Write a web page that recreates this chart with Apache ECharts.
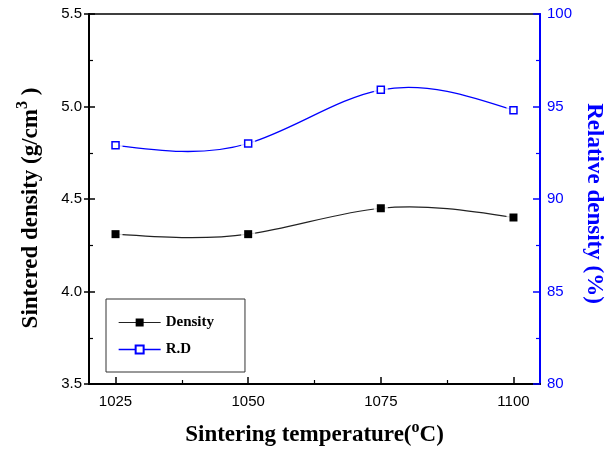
<!DOCTYPE html>
<html>
<head>
<meta charset="utf-8">
<script src="https://cdn.jsdelivr.net/npm/echarts@6/dist/echarts.min.js"></script>
<style>
  html, body { margin: 0; padding: 0; background: #fff; }
  #chart { width: 605px; height: 449px; }
</style>
</head>
<body>
<div id="chart"></div>
<script>
// Sintering temperature (°C)
const temperatures = [1025, 1050, 1075, 1100];
// Sintered density (g/cm3)
const density = [4.31, 4.31, 4.45, 4.40];
// Relative density (%)
const relDensity = [92.9, 93.0, 95.9, 94.8];
// Tick labels
const xTicks = [1025, 1050, 1075, 1100];
const xMinorTicks = [1037.5, 1062.5, 1087.5];

const BLUE = '#0000ff';
const SERIF = '"Liberation Serif", "Times New Roman", serif';
const SANS = '"Liberation Sans", Arial, sans-serif';

const pairs = (xs, ys) => xs.map((x, i) => [x, ys[i]]);
const densityData = pairs(temperatures, density);
const rdData = pairs(temperatures, relDensity);

// Knot slopes of a natural cubic spline through (xs, ys)
function splineSlopes(xs, ys) {
  const n = xs.length;
  const h = [];
  for (let i = 0; i < n - 1; i++) h.push(xs[i + 1] - xs[i]);
  const M = new Array(n).fill(0);
  if (n > 2) {
    // tridiagonal system for interior second derivatives
    const a = [], b = [], c = [], r = [];
    for (let i = 1; i < n - 1; i++) {
      a.push(h[i - 1]);
      b.push(2 * (h[i - 1] + h[i]));
      c.push(h[i]);
      r.push(6 * ((ys[i + 1] - ys[i]) / h[i] - (ys[i] - ys[i - 1]) / h[i - 1]));
    }
    const m = b.length;
    for (let i = 1; i < m; i++) {
      const w = a[i] / b[i - 1];
      b[i] -= w * c[i - 1];
      r[i] -= w * r[i - 1];
    }
    const sol = new Array(m);
    sol[m - 1] = r[m - 1] / b[m - 1];
    for (let i = m - 2; i >= 0; i--) sol[i] = (r[i] - c[i] * sol[i + 1]) / b[i];
    for (let i = 0; i < m; i++) M[i + 1] = sol[i];
  }
  const d = [];
  for (let i = 0; i < n - 1; i++) {
    d.push((ys[i + 1] - ys[i]) / h[i] - h[i] * (2 * M[i] + M[i + 1]) / 6);
  }
  const k = n - 2;
  d.push((ys[k + 1] - ys[k]) / h[k] + h[k] * (M[k] + 2 * M[k + 1]) / 6);
  return d;
}

// One item per curve segment: [x0, y0, slope0, x1, y1, slope1]
function segments(xs, ys) {
  const d = splineSlopes(xs, ys);
  const out = [];
  for (let i = 0; i < xs.length - 1; i++) {
    out.push([xs[i], ys[i], d[i], xs[i + 1], ys[i + 1], d[i + 1]]);
  }
  return out;
}

function curveRenderer(color, width) {
  return function (params, api) {
    const x0 = api.value(0), y0 = api.value(1), d0 = api.value(2);
    const x1 = api.value(3), y1 = api.value(4), d1 = api.value(5);
    const h = x1 - x0;
    const p0 = api.coord([x0, y0]);
    const c1 = api.coord([x0 + h / 3, y0 + d0 * h / 3]);
    const c2 = api.coord([x1 - h / 3, y1 - d1 * h / 3]);
    const p1 = api.coord([x1, y1]);
    return {
      type: 'bezierCurve',
      shape: {
        x1: p0[0], y1: p0[1], x2: p1[0], y2: p1[1],
        cpx1: c1[0], cpy1: c1[1], cpx2: c2[0], cpy2: c2[1]
      },
      style: { stroke: color, lineWidth: width, fill: null }
    };
  };
}

const chart = echarts.init(document.getElementById('chart'), null, { renderer: 'canvas' });

const option = {
  backgroundColor: '#fff',
  animation: false,
  grid: {
    left: 89, right: 65, top: 14, bottom: 65,
    containLabel: false, outerBoundsMode: 'none',
    show: true, borderColor: '#000', borderWidth: 1.5, backgroundColor: 'transparent'
  },
  legend: {
    orient: 'vertical',
    left: 106, top: 299,
    padding: [16, 31, 15, 12],
    itemGap: 12,
    itemWidth: 42, itemHeight: 10,
    borderColor: '#333', borderWidth: 1,
    textStyle: { fontFamily: SERIF, fontWeight: 'bold', fontSize: 15, color: '#000' },
    data: [
      { name: 'Density', lineStyle: { color: '#222', width: 1.2, opacity: 1 } },
      { name: 'R.D', lineStyle: { color: BLUE, width: 1.3, opacity: 1 } }
    ]
  },
  xAxis: [
    {
      type: 'value', min: 1020, max: 1105,
      axisLine: { show: true, lineStyle: { color: '#000', width: 2 } },
      axisTick: { show: true, inside: true, length: 7, customValues: xTicks, lineStyle: { color: '#000', width: 1.5 } },
      axisLabel: { customValues: xTicks, fontFamily: SANS, fontSize: 15, color: '#000', margin: 10, formatter: v => String(v) },
      splitLine: { show: false },
      name: 'Sintering temperature({sup|o}C)',
      nameLocation: 'middle', nameGap: 36,
      nameTextStyle: {
        fontFamily: SERIF, fontWeight: 'bold', fontSize: 23, color: '#000',
        rich: { sup: { fontFamily: SERIF, fontWeight: 'bold', fontSize: 16, color: '#000', padding: [0, 0, 14, 0] } }
      }
    },
    {
      type: 'value', min: 1020, max: 1105, position: 'bottom',
      axisLine: { show: false },
      axisTick: { show: true, inside: true, length: 4, customValues: xMinorTicks, lineStyle: { color: '#000', width: 1.2 } },
      axisLabel: { show: false },
      splitLine: { show: false }
    }
  ],
  yAxis: [
    {
      type: 'value', min: 3.5, max: 5.5, interval: 0.5, position: 'left',
      axisLine: { show: true, lineStyle: { color: '#000', width: 2 } },
      axisTick: { show: true, inside: false, length: 5, lineStyle: { color: '#000', width: 1.5 } },
      axisLabel: { fontFamily: SANS, fontSize: 15, color: '#000', margin: 7, formatter: v => v.toFixed(1) },
      splitLine: { show: false },
      name: 'Sintered density (g/cm{sup|3} )',
      nameLocation: 'middle', nameGap: 42,
      nameTextStyle: {
        fontFamily: SERIF, fontWeight: 'bold', fontSize: 23, color: '#000',
        padding: [0, 18, 0, 0],
        rich: { sup: { fontFamily: SERIF, fontWeight: 'bold', fontSize: 16, color: '#000', padding: [0, 0, 16, 0] } }
      }
    },
    {
      type: 'value', min: 80, max: 100, interval: 5, position: 'right',
      axisLine: { show: true, lineStyle: { color: BLUE, width: 2 } },
      axisTick: { show: true, inside: true, length: 7, lineStyle: { color: BLUE, width: 1.5 } },
      minorTick: { show: true, splitNumber: 2, length: 4, lineStyle: { color: BLUE, width: 1.2 } },
      axisLabel: { fontFamily: SANS, fontSize: 15, color: BLUE, margin: 7 },
      splitLine: { show: false },
      name: 'Relative density (%)',
      nameLocation: 'middle', nameGap: 40, nameRotate: -90,
      nameTextStyle: { fontFamily: SERIF, fontWeight: 'bold', fontSize: 23, color: BLUE, padding: [0, 0, 0, 9] }
    },
    {
      type: 'value', min: 3.5, max: 5.5, interval: 0.5, position: 'left',
      axisLine: { show: false },
      axisTick: { show: true, inside: true, length: 6, lineStyle: { color: '#000', width: 1.5 } },
      minorTick: { show: true, splitNumber: 2, length: 4, lineStyle: { color: '#000', width: 1.2 } },
      axisLabel: { show: false },
      splitLine: { show: false }
    }
  ],
  series: [
    // legend entries (line + marker icons); the curves themselves are drawn below
    {
      name: 'Density', type: 'line', xAxisIndex: 0, yAxisIndex: 0,
      data: densityData, showSymbol: false, silent: true,
      symbol: 'rect', symbolSize: 8,
      lineStyle: { color: '#222', width: 1.2, opacity: 0 },
      itemStyle: { color: '#000' }, z: 1
    },
    {
      name: 'R.D', type: 'line', xAxisIndex: 0, yAxisIndex: 1,
      data: rdData, showSymbol: false, silent: true,
      symbol: 'rect', symbolSize: 8,
      lineStyle: { color: BLUE, width: 1.3, opacity: 0 },
      itemStyle: { color: '#fff', borderColor: BLUE, borderWidth: 1.5 }, z: 1
    },
    // spline curves through the measured points
    {
      type: 'custom', xAxisIndex: 0, yAxisIndex: 0, silent: true,
      data: segments(temperatures, density),
      encode: { x: [0, 3], y: [1, 4] },
      renderItem: curveRenderer('#222', 1.2), z: 2
    },
    {
      type: 'custom', xAxisIndex: 0, yAxisIndex: 1, silent: true,
      data: segments(temperatures, relDensity),
      encode: { x: [0, 3], y: [1, 4] },
      renderItem: curveRenderer(BLUE, 1.3), z: 2
    },
    // white pads leave a small gap between each curve and its markers
    {
      type: 'scatter', xAxisIndex: 0, yAxisIndex: 0, data: densityData, silent: true,
      symbol: 'rect', symbolSize: 14, itemStyle: { color: '#fff' }, z: 3
    },
    {
      type: 'scatter', xAxisIndex: 0, yAxisIndex: 1, data: rdData, silent: true,
      symbol: 'rect', symbolSize: 14, itemStyle: { color: '#fff' }, z: 3
    },
    {
      type: 'scatter', xAxisIndex: 0, yAxisIndex: 0, data: densityData, silent: true,
      symbol: 'rect', symbolSize: 8, itemStyle: { color: '#000', opacity: 1 }, z: 4
    },
    {
      type: 'scatter', xAxisIndex: 0, yAxisIndex: 1, data: rdData, silent: true,
      symbol: 'rect', symbolSize: 7,
      itemStyle: { color: '#fff', borderColor: BLUE, borderWidth: 1.5, opacity: 1 }, z: 4
    }
  ]
};

chart.setOption(option);
</script>
</body>
</html>
